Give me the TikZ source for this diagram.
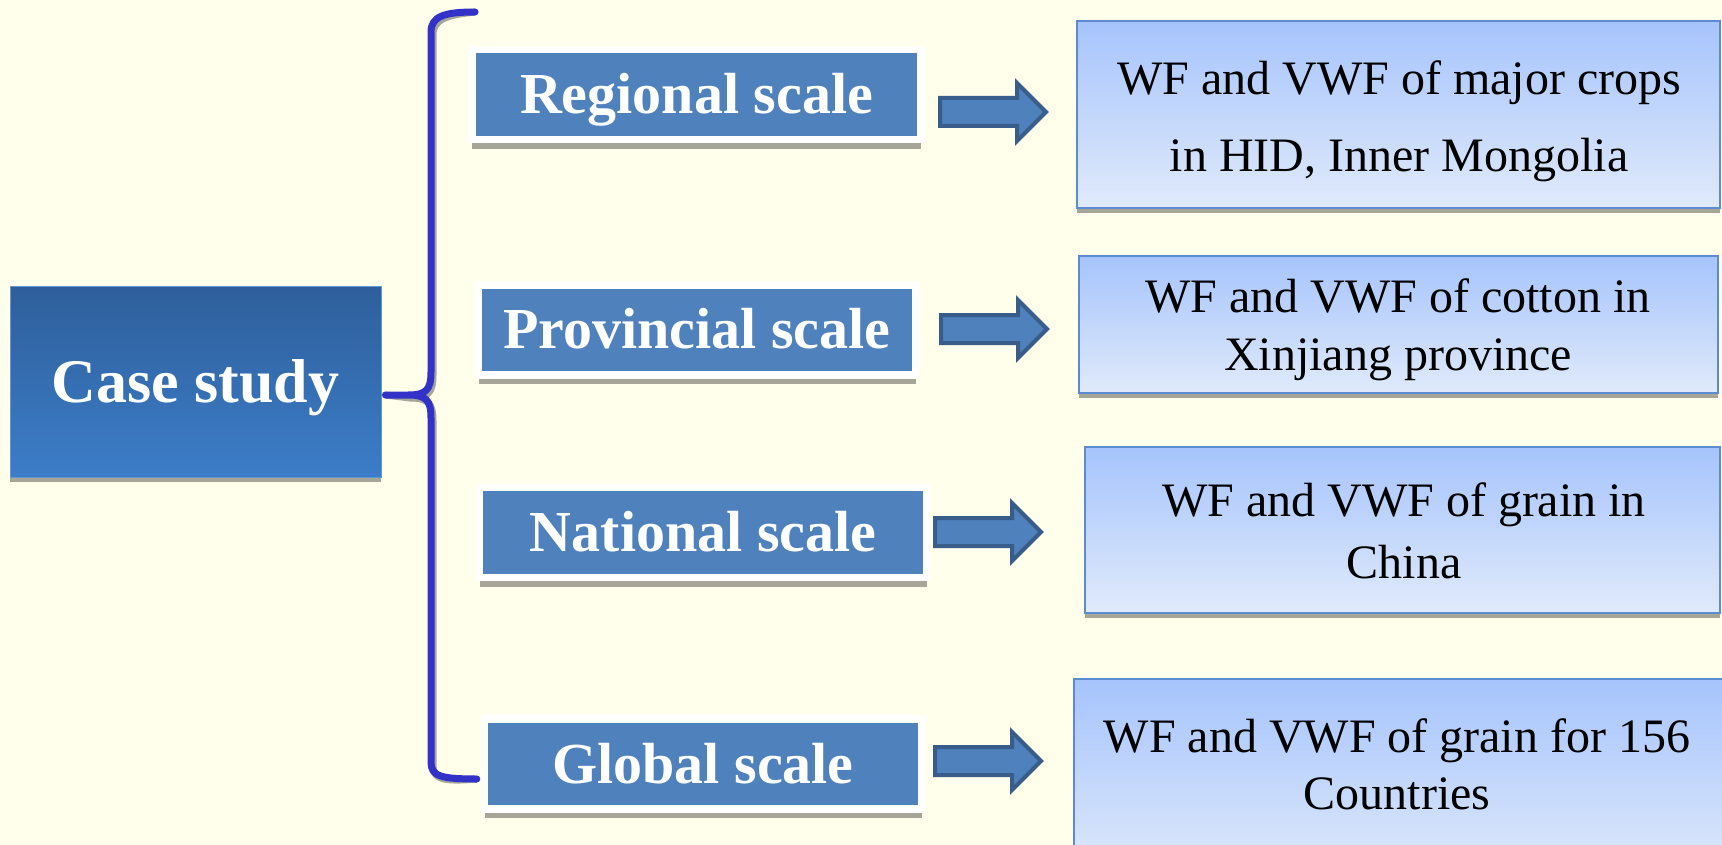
\documentclass[tikz,border=0pt]{standalone}
\usepackage{fontspec}
\setmainfont{Liberation Serif}
\usetikzlibrary{shapes.arrows,shadows}
\definecolor{bgyel}{HTML}{FFFFEB}
\definecolor{casetop}{HTML}{2E5F9B}
\definecolor{casebot}{HTML}{3C7DC8}
\definecolor{scaleblue}{HTML}{4F81BD}
\definecolor{arrfill}{HTML}{4F81BD}
\definecolor{arrdraw}{HTML}{385D8A}
\definecolor{rtop}{HTML}{A6C4FC}
\definecolor{rbot}{HTML}{E0EAFB}
\definecolor{rdraw}{HTML}{5B8BD0}
\definecolor{shgray}{HTML}{A5A598}
\definecolor{bracecol}{HTML}{3232C8}
\begin{document}
\begin{tikzpicture}[x=1pt,y=-1pt,
  casebox/.style={rectangle, top color=casetop, bottom color=casebot, draw=casebot!80!white, line width=1pt,
    minimum width=371pt, minimum height=191pt, inner sep=0pt, text=white,
    font=\bfseries\fontsize{62}{70}\selectfont, text height=41pt, text depth=0pt,
    drop shadow={shadow xshift=0pt, shadow yshift=-5pt, fill=shgray, opacity=1}},
  scalebox/.style={rectangle, fill=scaleblue, draw=white, line width=7.5pt, inner sep=0pt,
    minimum height=90pt, text=white,
    font=\bfseries\fontsize{58}{66}\selectfont, text height=38pt, text depth=0pt,
    drop shadow={shadow xshift=0pt, shadow yshift=-9pt, fill=shgray, opacity=1}},
  resbox/.style={rectangle, top color=rtop, bottom color=rbot, draw=rdraw, line width=2pt, inner sep=0pt,
    drop shadow={shadow xshift=0pt, shadow yshift=-5pt, fill=shgray, opacity=1}},
  rtext/.style={anchor=base, inner sep=0pt, text=black, font=\fontsize{48}{56}\selectfont},
  blockarrow/.style={single arrow, fill=arrfill, draw=arrdraw, line width=4pt, anchor=tail,
    minimum height=106pt, inner xsep=0pt, inner ysep=12pt, single arrow head extend=15pt},
  brace/.style={draw=bracecol, line width=7pt, line cap=round, line join=round},
  braceshadow/.style={draw=shgray, line width=7pt, line cap=round, line join=round}
]
\useasboundingbox (0,0) rectangle (1722,845);
\clip (0,0) rectangle (1722,845);
\fill[bgyel] (0,0) rectangle (1722,845);

% Case study
\node[casebox] (case) at (195.5,381.5) {Case study};

% Scale boxes
\node[scalebox, minimum width=449pt] (reg)  at (696.5,94.75) {Regional scale};
\node[scalebox, minimum width=437pt] (prov) at (697,329.75) {Provincial scale};
\node[scalebox, minimum width=447pt] (nat)  at (703,532.5) {National scale};
\node[scalebox, minimum width=437pt] (glob) at (703,764) {Global scale};

% Result boxes
\node[resbox, minimum width=643pt, minimum height=187pt] (r1) at (1398.5,114.5) {};
\node[resbox, minimum width=639pt, minimum height=137pt] (r2) at (1398.5,324.5) {};
\node[resbox, minimum width=635pt, minimum height=166pt] (r3) at (1402.5,530) {};
\node[resbox, minimum width=652pt, minimum height=201pt] (r4) at (1400,779.5) {};

\node[rtext] (t1a) at (1399,95)  {WF and VWF of major crops};
\node[rtext] (t1b) at (1399,172) {in HID, Inner Mongolia};
\node[rtext] (t2a) at (1398,312) {WF and VWF of cotton in};
\node[rtext] (t2b) at (1398,370) {Xinjiang province};
\node[rtext] (t3a) at (1404,516) {WF and VWF of grain in};
\node[rtext] (t3b) at (1404,578) {China};
\node[rtext] (t4a) at (1397,752) {WF and VWF of grain for 156};
\node[rtext] (t4b) at (1397,809) {Countries};

% Block arrows
\node[blockarrow] (a1) at (938,112) {};
\node[blockarrow] (a2) at (939,329) {};
\node[blockarrow] (a3) at (933,532) {};
\node[blockarrow] (a4) at (933,761) {};

% Brace
\coordinate (btop) at (475,12);
\coordinate (btip) at ([xshift=4pt]case.east |- 0,395);
\coordinate (bbot) at ([xshift=-4pt]glob.west |- 0,779);
\begin{scope}[shift={(2,3)}]
\draw[braceshadow] (btop) .. controls (445,12) and (431,16) .. (431,32) -- (431,372)
  .. controls (431,390) and (426,395) .. (408,395) -- (btip)
  -- (408,395) .. controls (426,395) and (431,400) .. (431,418) -- (431,762)
  .. controls (431,776) and (440,779) .. (bbot);
\end{scope}
\draw[brace] (btop) .. controls (445,12) and (431,16) .. (431,32) -- (431,372)
  .. controls (431,390) and (426,395) .. (408,395) -- (btip)
  -- (408,395) .. controls (426,395) and (431,400) .. (431,418) -- (431,762)
  .. controls (431,776) and (440,779) .. (bbot);
\end{tikzpicture}
\end{document}
